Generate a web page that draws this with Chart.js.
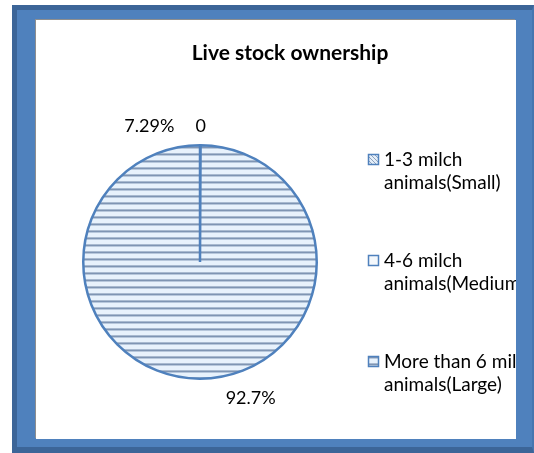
<!DOCTYPE html>
<html>
<head>
<meta charset="utf-8">
<title>Live stock ownership</title>
<script src="https://cdn.jsdelivr.net/npm/chart.js@4.4.1/dist/chart.umd.min.js"></script>
<style>
    html, body { margin: 0; padding: 0; background: #ffffff; }
    body { width: 534px; height: 453px; position: relative; overflow: hidden; }
    #frame {
        position: absolute; left: 12px; top: 5px; width: 522px; height: 448px;
        box-sizing: border-box; background: #4f81bd;
        border-left: 5px solid #3c6598; border-top: 5px solid #3c6598;
        border-bottom: 6px solid #3c6598; border-right: 2px solid #4676b0;
    }
    #plot {
        position: absolute; left: 36px; top: 20px; width: 480px; height: 419px;
        background: #ffffff; box-shadow: -1px -1px 0 #8e8e8e;
    }
    canvas { display: block; }
</style>
</head>
<body>
<div id="frame"></div>
<div id="plot"><canvas id="ownershipPie" width="480" height="419"></canvas></div>
<script>
const chartTitle = 'Live stock ownership';
const categories = [
    ['1-3 milch', 'animals(Small)'],
    ['4-6 milch', 'animals(Medium)'],
    ['More than 6 milch', 'animals(Large)']
];
const values = [0.0729, 0, 92.7];
// number format of each value's cell
const valueFormats = ['percent', 'general', 'percentSign'];

const FONT = 'Lato, "Open Sans", sans-serif';
const BLUE = '#4f81bd';

function formatValue(v, fmt) {
    if (fmt === 'percent') return (v * 100).toFixed(2) + '%';
    if (fmt === 'percentSign') return v + '%';
    return String(v);
}

function makePattern(kind) {
    const c = document.createElement('canvas');
    const ctx = c.getContext('2d');
    if (kind === 'horizontal') {
        c.width = 7; c.height = 7;
        ctx.fillStyle = '#e8f2fc';
        ctx.fillRect(0, 0, 7, 7);
        ctx.fillStyle = '#a9bad0'; ctx.fillRect(0, 0, 7, 1);
        ctx.fillStyle = '#7f95b3'; ctx.fillRect(0, 1, 7, 1);
        ctx.fillStyle = '#b8c8dc'; ctx.fillRect(0, 2, 7, 1);
    } else if (kind === 'diagonal') {
        c.width = 4; c.height = 4;
        ctx.fillStyle = '#e4eef9';
        ctx.fillRect(0, 0, 4, 4);
        ctx.fillStyle = '#8ea2bd';
        for (let i = 0; i < 4; i++) ctx.fillRect(i, i, 1, 1);
    } else {
        c.width = 4; c.height = 4;
        ctx.fillStyle = '#f4f8fc';
        ctx.fillRect(0, 0, 4, 4);
    }
    return document.getElementById('ownershipPie').getContext('2d').createPattern(c, 'repeat');
}

const patterns = [makePattern('diagonal'), makePattern('vertical'), makePattern('horizontal')];

const titlePlugin = {
    id: 'frameTitle',
    afterDraw(chart) {
        const ctx = chart.ctx;
        ctx.save();
        ctx.font = 'bold 21px ' + FONT;
        ctx.fillStyle = '#000000';
        ctx.textAlign = 'center';
        ctx.textBaseline = 'middle';
        ctx.fillText(chartTitle, 254, 33);
        ctx.restore();
    }
};

// value labels placed just outside each slice, nudged sideways where they would collide
const labelNudge = [-51, 0, 51];
const labelPlugin = {
    id: 'sliceLabels',
    afterDatasetsDraw(chart) {
        const ctx = chart.ctx;
        const meta = chart.getDatasetMeta(0);
        ctx.save();
        ctx.font = '18px ' + FONT;
        ctx.fillStyle = '#000000';
        ctx.textAlign = 'center';
        ctx.textBaseline = 'middle';
        meta.data.forEach((arc, i) => {
            const p = arc.getProps(['x', 'y', 'startAngle', 'endAngle', 'outerRadius'], true);
            const mid = (p.startAngle + p.endAngle) / 2;
            const r = p.outerRadius + 19;
            const x = p.x + Math.cos(mid) * r + labelNudge[i];
            const y = p.y + Math.sin(mid) * r;
            ctx.fillText(formatValue(values[i], valueFormats[i]), x, y);
        });
        ctx.restore();
    }
};

const legendPlugin = {
    id: 'sideLegend',
    afterDraw(chart) {
        const ctx = chart.ctx;
        const left = 332, top = 140, itemGap = 101, lineGap = 23;
        ctx.save();
        ctx.font = '19px ' + FONT;
        ctx.textBaseline = 'middle';
        ctx.textAlign = 'left';
        chart.data.labels.forEach((lines, i) => {
            const y = top + i * itemGap;
            ctx.fillStyle = chart.data.datasets[0].legendFill[i];
            ctx.fillRect(left, y - 6, 11, 11);
            ctx.strokeStyle = BLUE;
            ctx.lineWidth = 1.5;
            ctx.strokeRect(left + 0.5, y - 5.5, 10, 10);
            ctx.fillStyle = '#000000';
            lines.forEach((line, j) => ctx.fillText(line, left + 16, y + j * lineGap));
        });
        ctx.restore();
    }
};

const ctx = document.getElementById('ownershipPie').getContext('2d');
new Chart(ctx, {
    type: 'pie',
    data: {
        labels: categories,
        datasets: [{
            data: values,
            backgroundColor: [patterns[2], patterns[2], patterns[2]],
            legendFill: patterns,
            borderColor: BLUE,
            borderWidth: 2.5
        }]
    },
    options: {
        responsive: false,
        animation: false,
        events: [],
        layout: {
            padding: { left: 46, right: 198, top: 124, bottom: 59 }
        },
        plugins: {
            legend: { display: false },
            title: { display: false },
            tooltip: { enabled: false }
        }
    },
    plugins: [titlePlugin, labelPlugin, legendPlugin]
});
</script>
</body>
</html>
